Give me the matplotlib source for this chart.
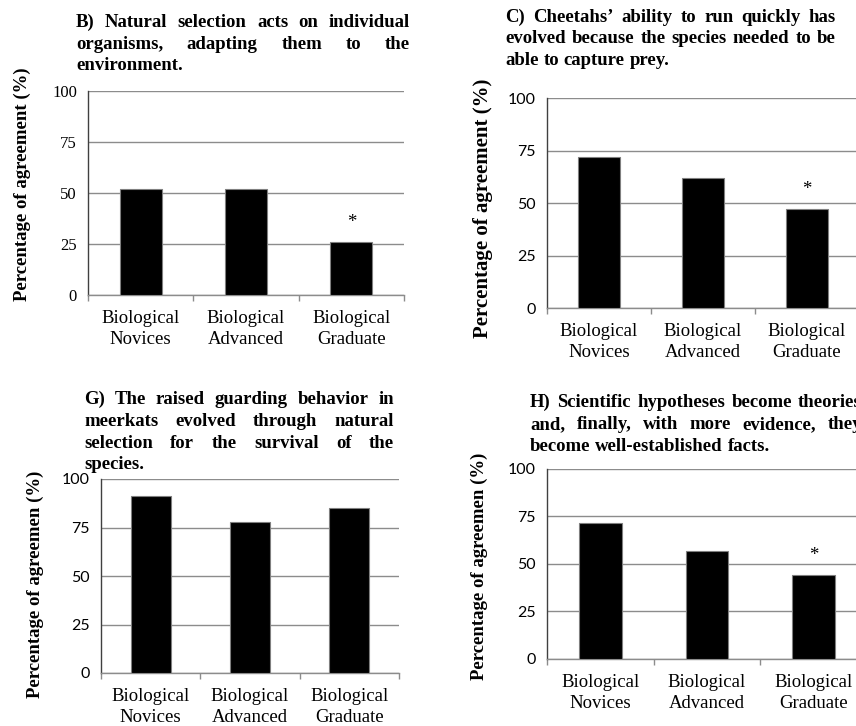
import matplotlib
matplotlib.use("Agg")
import matplotlib.pyplot as plt

W, H = 856, 726
DPI = 100

categories = ["Biological\nNovices", "Biological\nAdvanced", "Biological\nGraduate"]
yticks = [0, 25, 50, 75, 100]

vals_B = [52, 52, 26]
vals_C = [72, 62, 47]
vals_G = [91, 78, 85]
vals_H = [71.5, 57, 44]

sig_B = [False, False, True]
sig_C = [False, False, True]
sig_G = [False, False, False]
sig_H = [False, False, True]

title_B = ["B) Natural selection acts on individual",
           "organisms, adapting them to the",
           "environment."]
title_C = ["C) Cheetahs\u2019 ability to run quickly has",
           "evolved because the species needed to be",
           "able to capture prey."]
title_G = ["G) The raised guarding behavior in",
           "meerkats evolved through natural",
           "selection for the survival of the",
           "species."]
title_H = ["H) Scientific hypotheses become theories",
           "and, finally, with more evidence, they",
           "become well-established facts."]

ylabel_full = "Percentage of agreement (%)"
ylabel_trunc = "Percentage of agreemen (%)"

SERIF = "Liberation Serif"
SANS = "Lato"
GRID = "#8c8c8c"

fig = plt.figure(figsize=(W / DPI, H / DPI), dpi=DPI)
fig.patch.set_facecolor("white")
renderer = fig.canvas.get_renderer()


def px_axes(l, r, t, b):
    return [l / W, 1 - b / H, (r - l) / W, (b - t) / H]


def justify(lines, left, right, baselines, size=13.5):
    for i, (line, base) in enumerate(zip(lines, baselines)):
        words = line.split(" ")
        texts = []
        widths = []
        for w in words:
            t = fig.text(0, 1 - base / H, w, fontsize=size, fontweight="bold",
                         family=SERIF, va="baseline", ha="left")
            widths.append(t.get_window_extent(renderer).width)
            texts.append(t)
        last = (i == len(lines) - 1)
        if last or len(words) == 1:
            sp = fig.text(0, 0, "a a", fontsize=size, fontweight="bold", family=SERIF)
            sp2 = fig.text(0, 0, "aa", fontsize=size, fontweight="bold", family=SERIF)
            gap = sp.get_window_extent(renderer).width - sp2.get_window_extent(renderer).width
            sp.remove(); sp2.remove()
        else:
            gap = (right - left - sum(widths)) / (len(words) - 1)
        x = left
        for t, w in zip(texts, widths):
            t.set_x(x / W)
            x += w + gap


def panel(rect, vals, sig, tick_font, tick_size, ylabel, ylab_x, ylab_y, ylab_size):
    ax = fig.add_axes(px_axes(*rect))
    x = list(range(len(vals)))
    ax.bar(x, vals, width=0.4, color="black", edgecolor="#7f7f7f", linewidth=0.8, zorder=3)
    ax.set_xlim(-0.5, len(vals) - 0.5)
    ax.set_ylim(0, 100)
    ax.set_yticks(yticks)
    ax.set_yticklabels([str(v) for v in yticks], family=tick_font, fontsize=tick_size)
    ax.yaxis.grid(True, color=GRID, linewidth=1.0, zorder=0)
    ax.tick_params(axis="y", length=0, pad=8)
    ax.set_xticks([i + 0.5 for i in range(-1, len(vals))], minor=False)
    ax.set_xticklabels([])
    ax.tick_params(axis="x", which="major", direction="out", length=4, color=GRID, width=1)
    ax.set_xticks(x, minor=True)
    ax.set_xticklabels(categories, minor=True, family=SERIF, fontsize=13.5, linespacing=1.3)
    ax.tick_params(axis="x", which="minor", length=0, pad=11)
    for s in ["top", "right"]:
        ax.spines[s].set_visible(False)
    ax.spines["left"].set_color("#404040")
    ax.spines["bottom"].set_color(GRID)
    ax.spines["left"].set_linewidth(1.0)
    ax.spines["bottom"].set_linewidth(1.0)
    for xi, v, s in zip(x, vals, sig):
        if s:
            ax.annotate("*", (xi, v), xytext=(0, 11), textcoords="offset points",
                        ha="center", va="baseline", family=SERIF, fontsize=13.5)
    fig.text(ylab_x / W, 1 - ylab_y / H, ylabel, rotation=90, ha="center", va="center",
             family=SERIF, fontweight="bold", fontsize=ylab_size)
    return ax


panel((88, 404, 91, 295), vals_B, sig_B, SERIF, 12, ylabel_full, 22, 184.5, 13.5)
panel((547, 859, 98, 308), vals_C, sig_C, SANS, 11.5, ylabel_full, 483, 208, 15)
panel((101, 399, 479, 673), vals_G, sig_G, SANS, 11.5, ylabel_trunc, 35, 584, 13.5)
panel((547, 867, 469, 658.7), vals_H, sig_H, SANS, 11.5, ylabel_trunc, 479, 566, 13.5)

justify(title_B, 76, 410, [27.3, 49, 70.5])
justify(title_C, 505, 836, [21.7, 43.3, 65])
justify(title_G, 84, 394, [404.3, 426, 447.7, 469.3])
justify(title_H, 530, 862, [407.3, 429.3, 451])

fig.savefig("out.png", dpi=DPI, facecolor="white")
